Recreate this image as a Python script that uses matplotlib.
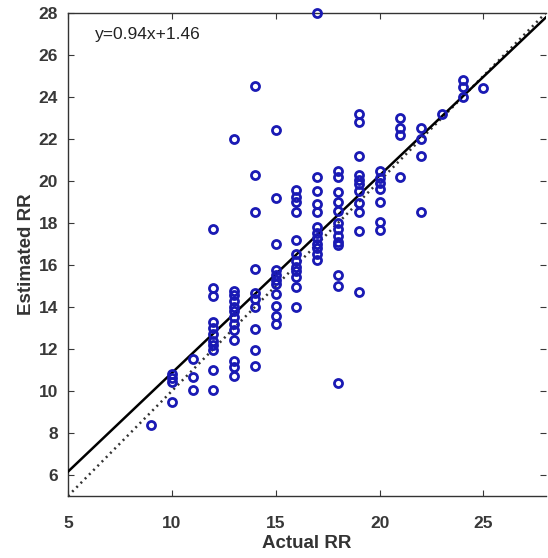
import numpy as np
import matplotlib
matplotlib.use("Agg")
import matplotlib.pyplot as plt

# actual RR (integer) vs estimated RR, one list per actual value
actual_vals = [9, 10, 11, 12, 13, 14, 15, 16, 17, 18, 19, 20, 21, 22, 23, 24, 25]
estimated = [
    [8.4],
    [10.8, 10.6, 10.45, 9.5],
    [11.5, 10.65, 10.05],
    [17.7, 14.9, 14.5, 13.3, 13.0, 12.7, 12.4, 12.2, 11.95, 11.0, 10.05],
    [22.0, 14.75, 14.55, 14.3, 14.0, 13.8, 13.5, 13.2, 12.9, 12.45, 11.45, 11.15, 10.7],
    [24.5, 20.3, 18.5, 15.8, 14.65, 14.4, 14.0, 12.95, 11.95, 11.2],
    [22.4, 19.2, 17.0, 15.75, 15.5, 15.3, 15.1, 14.6, 14.05, 13.55, 13.2],
    [19.55, 19.25, 19.0, 18.5, 17.2, 16.5, 16.2, 15.9, 15.7, 15.45, 14.95, 14.0],
    [28.0, 20.2, 19.5, 18.9, 18.5, 17.8, 17.5, 17.3, 17.0, 16.8, 16.5, 16.25],
    [20.45, 20.2, 19.45, 19.0, 18.55, 18.0, 17.7, 17.4, 17.1, 16.95, 15.5, 15.0, 10.4],
    [23.2, 22.8, 21.2, 20.3, 20.05, 19.85, 19.5, 18.95, 18.5, 17.6, 14.7],
    [20.45, 20.15, 19.9, 19.6, 19.0, 18.05, 17.65],
    [23.0, 22.5, 22.2, 20.2],
    [22.5, 22.0, 21.2, 18.5],
    [23.2],
    [24.8, 24.45, 24.0],
    [24.4],
]
slope = 0.94
intercept = 1.46
x_ticks = [5, 10, 15, 20, 25]
y_ticks = [6, 8, 10, 12, 14, 16, 18, 20, 22, 24, 26, 28]

xs = []
ys = []
for a, est in zip(actual_vals, estimated):
    xs += [a] * len(est)
    ys += est

plt.rcParams['font.family'] = ['Liberation Sans', 'DejaVu Sans']

fig = plt.figure(figsize=(5.48, 5.58), dpi=100)
ax = fig.add_axes([0.124, 0.111, 0.872, 0.866])

line_x = np.array([5, 28])
ax.plot(line_x, line_x, color='#333333', lw=1.8, ls=(0, (0.8, 1.6)), zorder=2)
ax.plot(line_x, slope * line_x + intercept, color='black', lw=1.8, zorder=3)
ax.plot(xs, ys, 'o', ms=5.8, mfc='none', mec='#1a1ab4', mew=2.0,
        zorder=4, clip_on=False)

ax.text(6.3, 26.95, 'y=%.2fx+%.2f' % (slope, intercept), fontsize=12.5,
        color='#222222', va='center', ha='left')

ax.set_xlim(5, 28)
ax.set_ylim(5, 28)
ax.set_xticks(x_ticks)
ax.set_yticks(y_ticks)
ax.tick_params(direction='in', length=4, width=0.8, top=True, right=True,
               labelsize=12.5, colors='#383838')
ax.tick_params(axis='x', pad=14)
ax.tick_params(axis='y', pad=7)
for lab in ax.get_xticklabels() + ax.get_yticklabels():
    lab.set_fontweight('bold')
for s in ax.spines.values():
    s.set_color('#333333')
    s.set_linewidth(1.0)
ax.spines['right'].set_visible(False)

ax.set_xlabel('Actual RR', fontsize=13.5, fontweight='bold', color='#333333', labelpad=3)
ax.set_ylabel('Estimated RR', fontsize=13.5, fontweight='bold', color='#333333', labelpad=3)

fig.savefig('out.png', dpi=100)
